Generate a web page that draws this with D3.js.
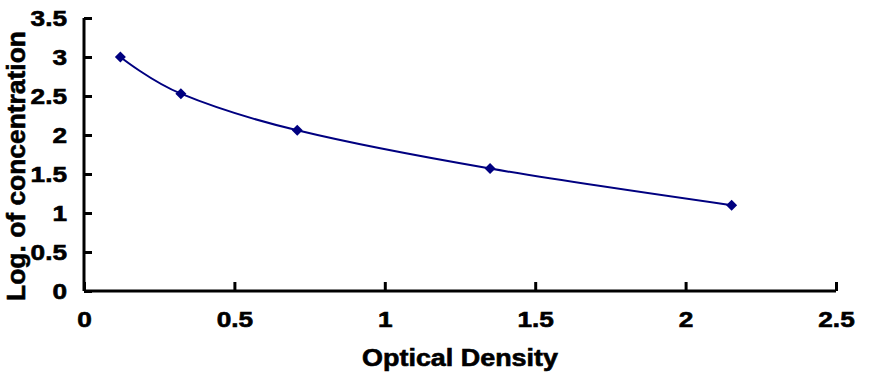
<!DOCTYPE html>
<html>
<head>
<meta charset="utf-8">
<script src="https://cdn.jsdelivr.net/npm/d3@7"></script>
<style>
  html, body { margin: 0; padding: 0; background: #ffffff; }
  svg { display: block; }
  text { font-family: "Liberation Sans", Arial, sans-serif; font-weight: bold; fill: #000; }
</style>
</head>
<body>
<script>
// Data
const odValues = [0.121, 0.322, 0.709, 1.350, 2.153];
const logConc  = [3.00, 2.53, 2.06, 1.57, 1.10];
const xTicks = [0, 0.5, 1, 1.5, 2, 2.5];
const yTicks = [0, 0.5, 1, 1.5, 2, 2.5, 3, 3.5];
const xTitle = "Optical Density";
const yTitle = "Log. of concentration";

const W = 878, H = 387;
const mLeft = 84, mRight = 836, mTop = 18, mBottom = 291;
const stretch = 1.22;
const FONT = "'Liberation Sans', Arial, sans-serif";

const svg = d3.select("body").append("svg").attr("width", W).attr("height", H);
svg.append("rect").attr("width", W).attr("height", H).attr("fill", "#fff");

const x = d3.scaleLinear().domain([0, 2.5]).range([mLeft, mRight]);
const y = d3.scaleLinear().domain([0, 3.5]).range([mBottom, mTop]);

function styleText(sel, size) {
  sel.style("font-size", size).style("font-family", FONT)
     .style("font-weight", "bold").attr("fill", "#000")
     .attr("stroke", "#000").attr("stroke-width", 0.6);
}

// X axis
const gx = svg.append("g").attr("transform", `translate(0,${mBottom})`)
  .call(d3.axisBottom(x).tickValues(xTicks).tickFormat(d3.format("~g"))
        .tickSizeInner(-9).tickSizeOuter(0));
gx.select(".domain").attr("stroke", "#000").attr("stroke-width", 3)
  .attr("d", `M${mLeft},0H${mRight}`);
gx.selectAll(".tick line").attr("stroke", "#000").attr("stroke-width", 3);
gx.selectAll(".tick text")
  .attr("y", 0).attr("dy", 0)
  .attr("transform", `translate(0,36) scale(${stretch},1)`)
  .call(styleText, "21.5px");

// Y axis
const gy = svg.append("g").attr("transform", `translate(${mLeft},0)`)
  .call(d3.axisLeft(y).tickValues(yTicks).tickFormat(d3.format("~g"))
        .tickSizeInner(-8).tickSizeOuter(0));
gy.select(".domain").attr("stroke", "#000").attr("stroke-width", 3)
  .attr("d", `M0,${mTop}V${mBottom}`);
gy.selectAll(".tick line").attr("stroke", "#000").attr("stroke-width", 3);
gy.selectAll(".tick text")
  .attr("x", 0).attr("dy", "0.36em")
  .attr("transform", `translate(-17,0) scale(${stretch},1)`)
  .call(styleText, "21.5px");

// Titles
svg.append("text")
  .attr("transform", `translate(${(mLeft + mRight) / 2},366) scale(1.17,1)`)
  .attr("text-anchor", "middle")
  .call(styleText, "23px")
  .text(xTitle);

svg.append("text")
  .attr("transform", `translate(25,166) rotate(-90)`)
  .attr("text-anchor", "middle")
  .call(styleText, "26.4px")
  .text(yTitle);

// Curve
const pts = odValues.map((v, i) => [v, logConc[i]]);
const line = d3.line().x(d => x(d[0])).y(d => y(d[1])).curve(d3.curveCatmullRom.alpha(0));
svg.append("path").datum(pts)
  .attr("d", line).attr("fill", "none")
  .attr("stroke", "#000080").attr("stroke-width", 2);

// Diamond markers
const r = 5.5;
svg.selectAll("path.marker").data(pts).enter().append("path")
  .attr("class", "marker")
  .attr("d", d => {
    const cx = x(d[0]), cy = y(d[1]);
    return `M${cx},${cy - r}L${cx + r},${cy}L${cx},${cy + r}L${cx - r},${cy}Z`;
  })
  .attr("fill", "#000080");
</script>
</body>
</html>
